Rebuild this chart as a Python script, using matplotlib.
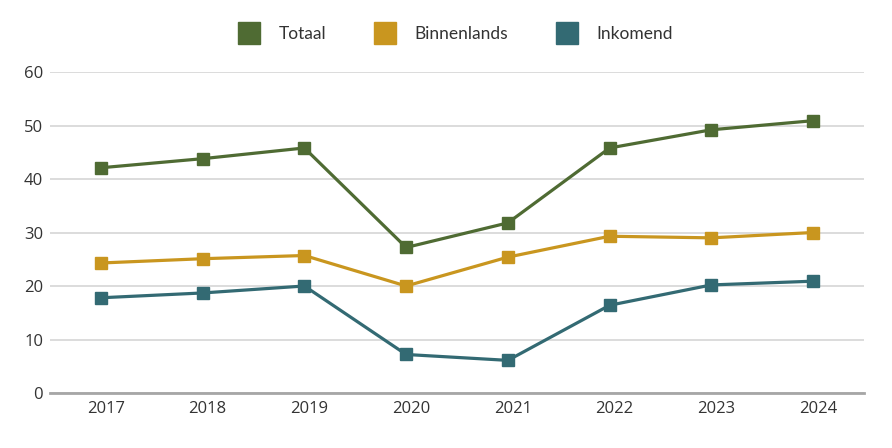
import matplotlib
matplotlib.use('Agg')
import matplotlib.pyplot as plt
import matplotlib.transforms as mtrans
from matplotlib.lines import Line2D

plt.rcParams['font.family'] = ['Lato', 'DejaVu Sans']

years = ['2017', '2018', '2019', '2020', '2021', '2022', '2023', '2024']
totaal = [42.1, 43.8, 45.8, 27.2, 31.8, 45.8, 49.2, 50.9]
binnenlands = [24.3, 25.1, 25.7, 20.0, 25.4, 29.3, 29.0, 30.0]
inkomend = [17.8, 18.7, 20.0, 7.2, 6.1, 16.4, 20.2, 20.9]

namen = ['Totaal', 'Binnenlands', 'Inkomend']
kleuren = ['#4f6b33', '#c9961f', '#336a73']

fig = plt.figure(figsize=(8.92, 4.48), dpi=100)
ax = fig.add_axes([50 / 892, 55 / 448, 814 / 892, 321 / 448])

x = range(len(years))
for serie, naam, kleur in zip([totaal, binnenlands, inkomend], namen, kleuren):
    ax.plot(x, serie, color=kleur, lw=2.3, marker='s', ms=8.5, label=naam, zorder=3)

ax.set_xlim(-0.5, len(years) - 0.5)
ax.set_ylim(0, 60)
ax.set_yticks(range(0, 61, 10))
ax.set_xticks(list(x))
ax.set_xticklabels(years)
ax.grid(axis='y', color='#d6d6d6', lw=1.2)
ax.set_axisbelow(True)
for s in ['top', 'right', 'left']:
    ax.spines[s].set_visible(False)
ax.spines['bottom'].set_color('#a6a6a6')
ax.spines['bottom'].set_linewidth(2)
ax.tick_params(axis='both', length=0, labelsize=12, colors='#333333')
ax.tick_params(axis='x', pad=6)
ax.tick_params(axis='y', pad=5)
for lab in ax.get_xticklabels() + ax.get_yticklabels():
    lab.set_family(['Open Sans', 'DejaVu Sans'])
# labels on the x axis sit a little right of the points in the original
verschuif = mtrans.ScaledTranslation(5 / 100, 0, fig.dpi_scale_trans)
for lab in ax.get_xticklabels():
    lab.set_transform(lab.get_transform() + verschuif)

handles = [Line2D([], [], ls='none', marker='s', ms=16.5, color=k) for k in kleuren]
fig.legend(handles, namen, loc='center', bbox_to_anchor=(0.507, 0.924), ncol=3,
           frameon=False, fontsize=12.5, handletextpad=0.7, columnspacing=2.4,
           labelcolor='#333333')

fig.savefig('out.png', dpi=100)
